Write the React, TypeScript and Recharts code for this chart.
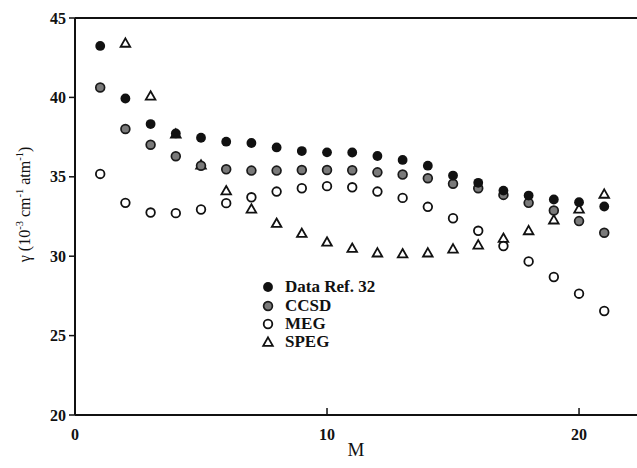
import { ScatterChart, Scatter, XAxis, YAxis, ReferenceLine } from "recharts";

// M values (number of units)
const mValues = [1, 2, 3, 4, 5, 6, 7, 8, 9, 10, 11, 12, 13, 14, 15, 16, 17, 18, 19, 20, 21];
const dataRef32 = [43.24, 39.93, 38.32, 37.73, 37.46, 37.21, 37.13, 36.85, 36.62, 36.54, 36.53, 36.31, 36.06, 35.7, 35.08, 34.62, 34.13, 33.82, 33.57, 33.4, 33.13];
const ccsd = [40.62, 38.01, 37.02, 36.29, 35.7, 35.47, 35.39, 35.39, 35.43, 35.43, 35.41, 35.28, 35.14, 34.91, 34.56, 34.28, 33.86, 33.36, 32.88, 32.21, 31.48];
const meg = [35.18, 33.36, 32.75, 32.71, 32.94, 33.34, 33.71, 34.07, 34.28, 34.41, 34.34, 34.07, 33.67, 33.11, 32.39, 31.6, 30.64, 29.67, 28.69, 27.64, 26.55];
// SPEG starts at M = 2
const spegM = [2, 3, 4, 5, 6, 7, 8, 9, 10, 11, 12, 13, 14, 15, 16, 17, 18, 19, 20, 21];
const speg = [43.43, 40.1, 37.7, 35.75, 34.13, 32.98, 32.08, 31.45, 30.9, 30.51, 30.22, 30.16, 30.22, 30.47, 30.72, 31.14, 31.62, 32.3, 32.98, 33.92];

const xTicks = [0, 10, 20];
const yTicks = [20, 25, 30, 35, 40, 45];

const FONT = "'Liberation Serif', 'Times New Roman', serif";

const toPoints = (xs: number[], ys: number[]) => xs.map((x, i) => ({ x, y: ys[i] }));

const FilledDot = (p: any) => <circle cx={p.cx} cy={p.cy} r={4.9} fill="#111" />;
const GrayDot = (p: any) => (
  <circle cx={p.cx} cy={p.cy} r={4.4} fill="#7a7a7a" stroke="#1a1a1a" strokeWidth={1.7} />
);
const OpenDot = (p: any) => (
  <circle cx={p.cx} cy={p.cy} r={4.3} fill="#fff" stroke="#111" strokeWidth={1.8} />
);
const Triangle = (p: any) => (
  <path
    d={`M${p.cx},${p.cy - 4.6} L${p.cx + 4.8},${p.cy + 3.8} L${p.cx - 4.8},${p.cy + 3.8} Z`}
    fill="#fff"
    stroke="#111"
    strokeWidth={1.8}
  />
);

const XTick = (props: any) => {
  const { x, y, payload } = props;
  return (
    <g>
      {payload.value !== 0 && <line x1={x} y1={y} x2={x} y2={y - 7} stroke="#111" strokeWidth={1.5} />}
      <text x={x} y={y + 25} textAnchor="middle" fontFamily={FONT} fontWeight="bold" fontSize={16} fill="#111">
        {payload.value}
      </text>
    </g>
  );
};

const YLabel = (props: any) => {
  const vb = props.viewBox || { x: 0, y: 18, width: 75, height: 397 };
  const cx = 30;
  const cy = vb.y + vb.height / 2 - 12;
  return (
    <text
      x={cx}
      y={cy}
      transform={`rotate(-90, ${cx}, ${cy})`}
      textAnchor="middle"
      fontFamily={FONT}
      fontSize={16}
      fill="#111"
    >
      γ (10
      <tspan dy={-7} fontSize={10.5}>-3</tspan>
      <tspan dy={7}> cm</tspan>
      <tspan dy={-7} fontSize={10.5}>-1</tspan>
      <tspan dy={7}> atm</tspan>
      <tspan dy={-7} fontSize={10.5}>-1</tspan>
      <tspan dy={7}>)</tspan>
    </text>
  );
};

const legendItems = [
  { name: "Data Ref. 32", Shape: FilledDot },
  { name: "CCSD", Shape: GrayDot },
  { name: "MEG", Shape: OpenDot },
  { name: "SPEG", Shape: Triangle },
];

export default function App() {
  return (
    <div style={{ position: "absolute", left: 0, top: 0, width: 637, height: 468, background: "#fff" }}>
      <ScatterChart width={637} height={468} margin={{ top: 18, right: 0, left: 0, bottom: 0 }}>
        <XAxis
          type="number"
          dataKey="x"
          domain={[0, 22.3]}
          ticks={xTicks}
          allowDataOverflow
          height={53}
          axisLine={{ stroke: "#111", strokeWidth: 2 }}
          tickLine={false}
          tickSize={0}
          tickMargin={0}
          tick={<XTick />}
          label={{ value: "M", position: "insideBottom", offset: 12, fontFamily: FONT, fontSize: 19, fill: "#111" }}
        />
        <YAxis
          type="number"
          dataKey="y"
          domain={[20, 45]}
          ticks={yTicks}
          width={75}
          axisLine={{ stroke: "#111", strokeWidth: 2 }}
          tickLine={{ stroke: "#111", strokeWidth: 1.5 }}
          tickSize={6}
          tickMargin={3}
          tick={{ fontFamily: FONT, fontWeight: "bold", fontSize: 16, fill: "#111" }}
          label={<YLabel />}
        />
        <ReferenceLine y={45} stroke="#111" strokeWidth={2} />
        <Scatter name="SPEG" data={toPoints(spegM, speg)} shape={Triangle} isAnimationActive={false} />
        <Scatter name="MEG" data={toPoints(mValues, meg)} shape={OpenDot} isAnimationActive={false} />
        <Scatter name="CCSD" data={toPoints(mValues, ccsd)} shape={GrayDot} isAnimationActive={false} />
        <Scatter name="Data Ref. 32" data={toPoints(mValues, dataRef32)} shape={FilledDot} isAnimationActive={false} />
      </ScatterChart>
      <div
        style={{
          position: "absolute",
          left: 259,
          top: 278,
          fontFamily: FONT,
          fontWeight: "bold",
          fontSize: 17,
          color: "#111",
        }}
      >
        {legendItems.map(({ name, Shape }) => (
          <div key={name} style={{ display: "flex", alignItems: "center", height: 18.4 }}>
            <svg width={18} height={14} style={{ display: "block" }}>
              <Shape cx={9} cy={7} />
            </svg>
            <span style={{ marginLeft: 8, lineHeight: "18px" }}>{name}</span>
          </div>
        ))}
      </div>
    </div>
  );
}
